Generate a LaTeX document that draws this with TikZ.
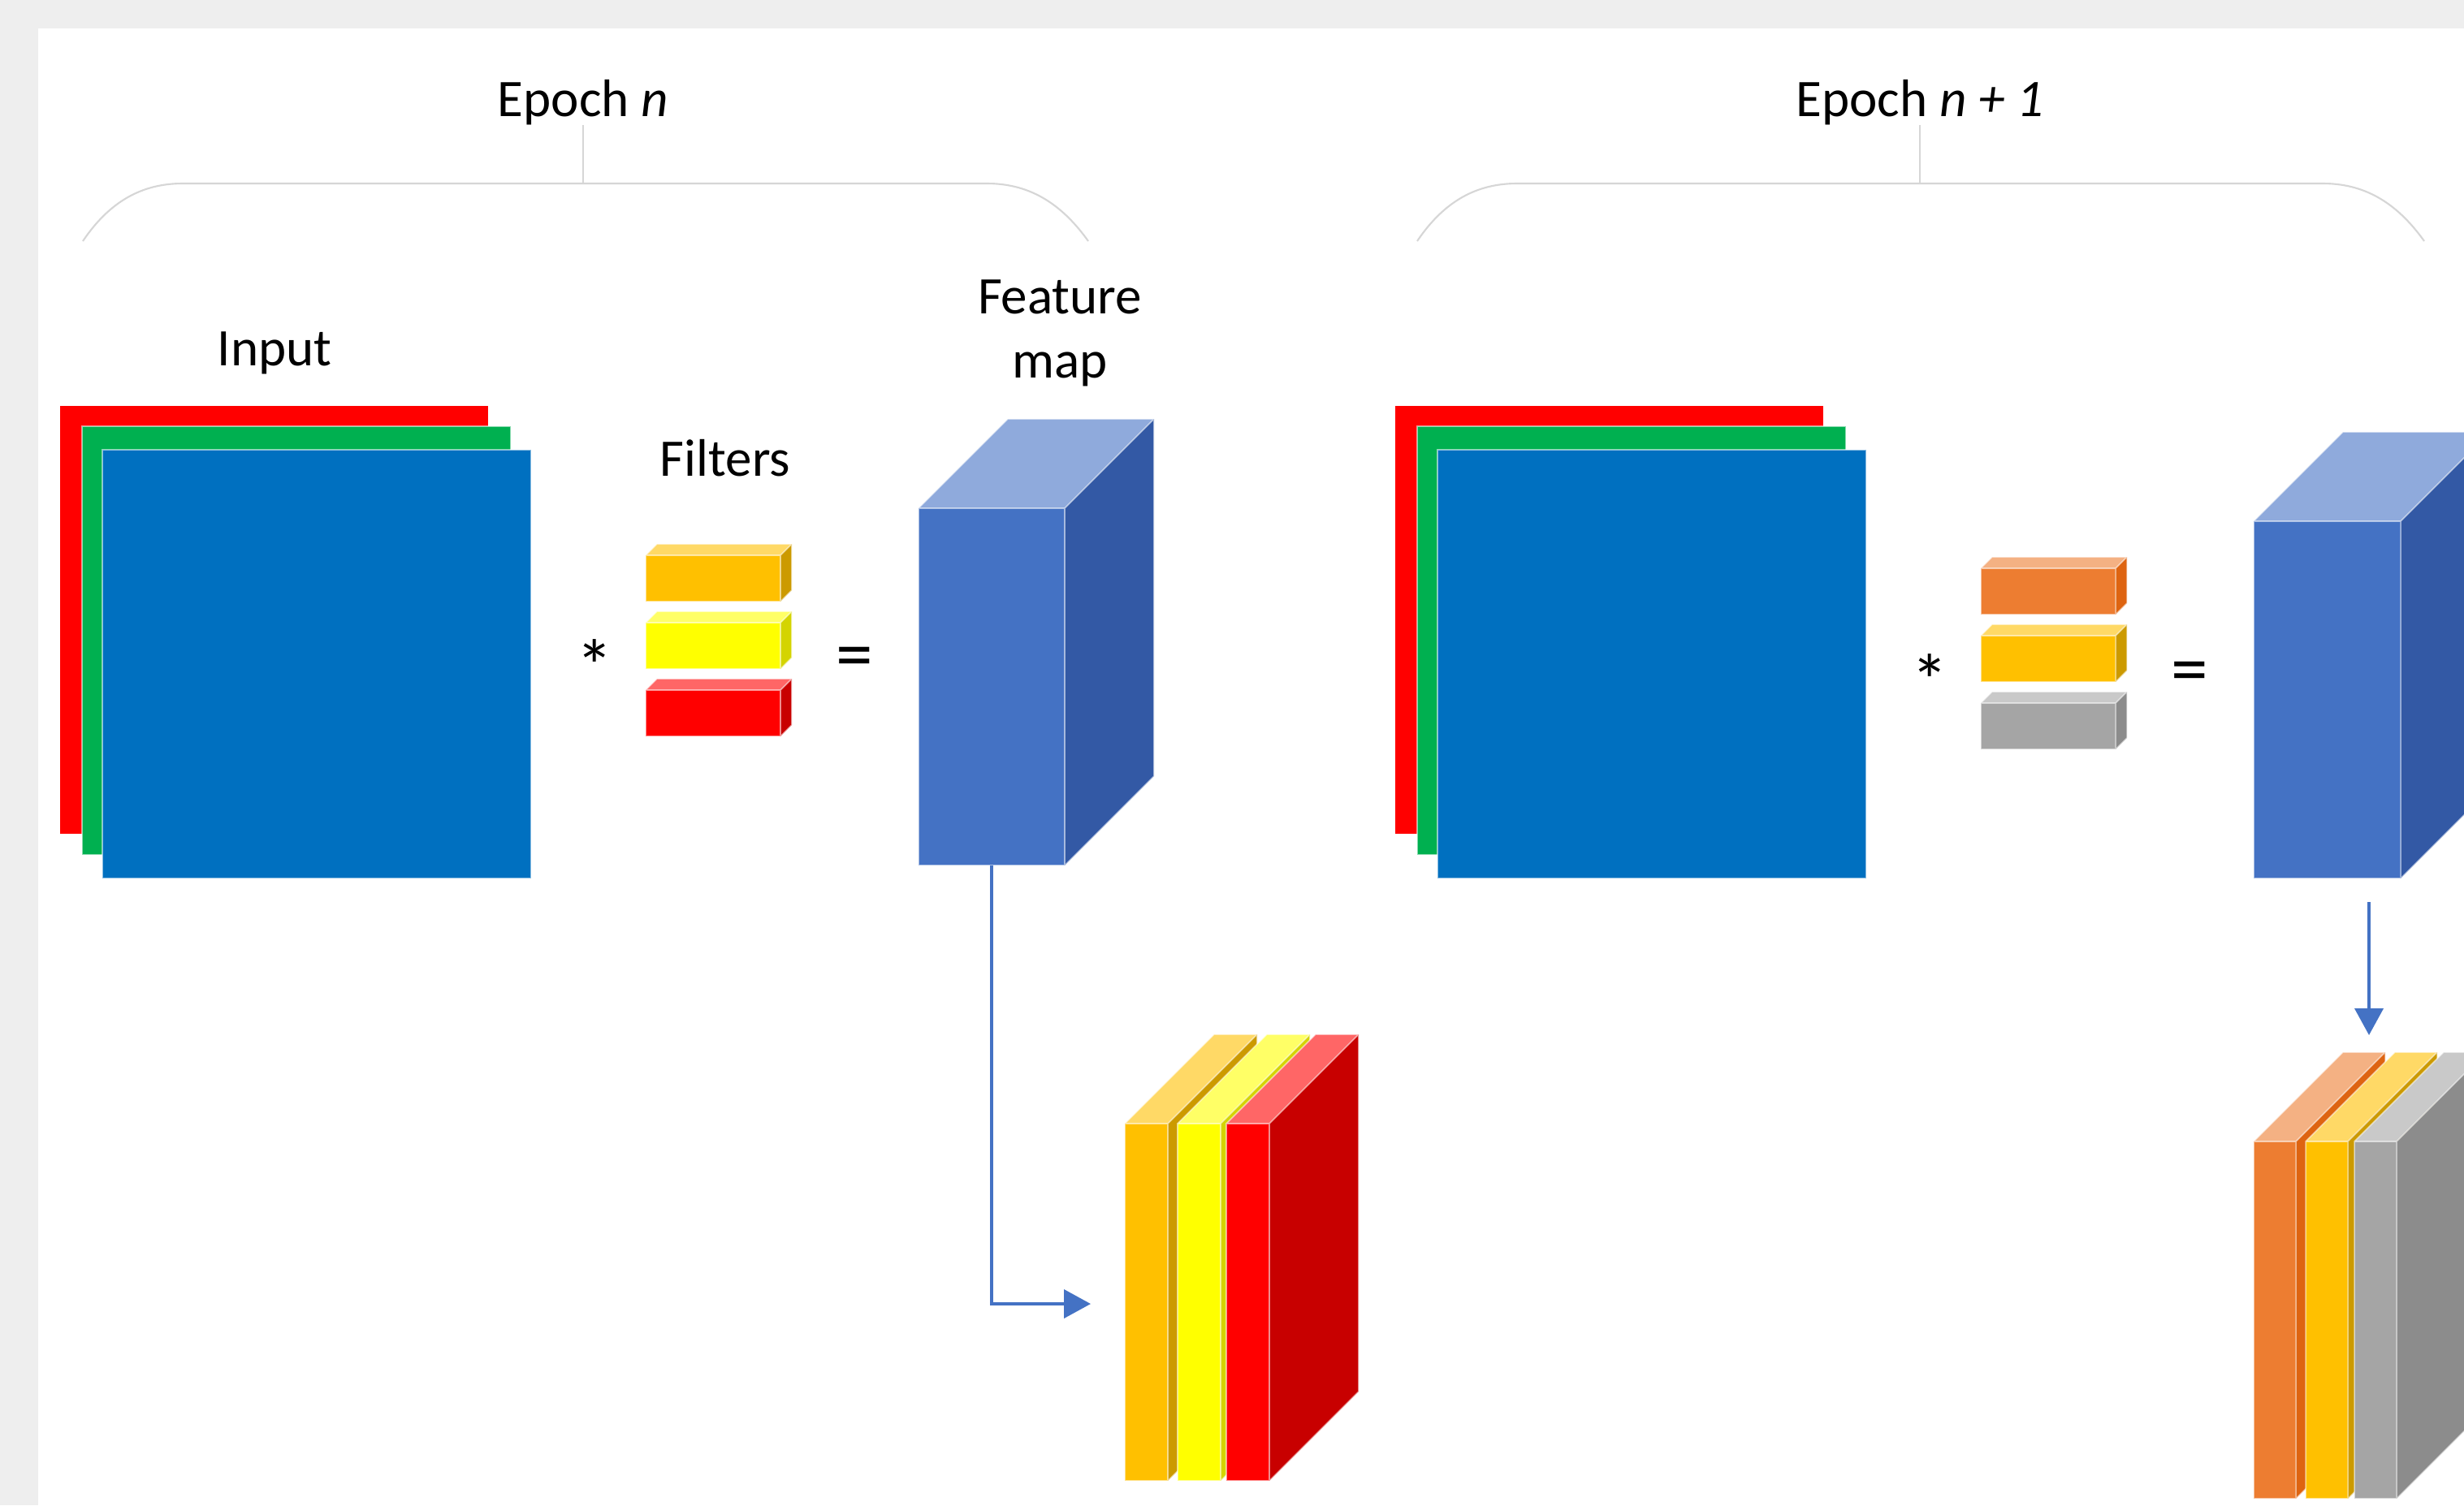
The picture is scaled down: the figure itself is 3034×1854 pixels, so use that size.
\documentclass[tikz,border=0pt]{standalone}
\usepackage{fontspec}
\setmainfont{Carlito}
\usetikzlibrary{arrows.meta}
\definecolor{bggray}{HTML}{EEEEEE}
\definecolor{bracecol}{HTML}{D6D6D6}
\definecolor{inred}{HTML}{FF0000}
\definecolor{ingreen}{HTML}{00B050}
\definecolor{inblue}{HTML}{0070C0}
\definecolor{fmfront}{HTML}{4472C4}
\definecolor{fmside}{HTML}{3359A5}
\definecolor{fmtop}{HTML}{8FAADC}
\definecolor{gfront}{HTML}{FFC000}\definecolor{gside}{HTML}{CC9A00}\definecolor{gtop}{HTML}{FFD966}
\definecolor{yfront}{HTML}{FFFF00}\definecolor{yside}{HTML}{D4D400}\definecolor{ytop}{HTML}{FFFF66}
\definecolor{rfront}{HTML}{FF0000}\definecolor{rside}{HTML}{C80000}\definecolor{rtop}{HTML}{FF6666}
\definecolor{ofront}{HTML}{ED7D31}\definecolor{oside}{HTML}{DE6411}\definecolor{otop}{HTML}{F4B183}
\definecolor{afront}{HTML}{A5A5A5}\definecolor{aside}{HTML}{8C8C8C}\definecolor{atop}{HTML}{C9C9C9}
\tikzset{
  edge/.style={draw=white, draw opacity=0.55, line width=0.45pt},
  lbl/.style={font=\fontsize{18.5}{22.2}\selectfont, inner sep=0pt},
  op/.style={font=\fontsize{26}{30}\selectfont, inner sep=0pt},
  bracel/.style={draw=bracecol, line width=0.6pt},
  arr/.style={draw=fmfront, line width=1.15pt, -{Triangle[length=0.33cm,width=0.35cm]}}
}
% name, x, y, w, h, d, front, side, top
\newcommand{\mybox}[9]{%
  \fill[#9] (#2,#3) -- ++(#6,-#6) -- ++(#4,0) -- ++(-#6,#6) -- cycle;
  \fill[#8] (#2+#4,#3) -- ++(#6,-#6) -- ++(0,#5) -- ++(-#6,#6) -- cycle;
  \fill[#7] (#2,#3) rectangle ++(#4,#5);
  \draw[edge] (#2,#3) -- ++(#6,-#6) -- ++(#4,0) -- ++(0,#5) -- ++(-#6,#6)
              (#2+#4,#3) -- ++(#6,-#6) (#2,#3) rectangle ++(#4,#5);
  \coordinate (#1) at (#2+#4/2,#3+#5);
}
\begin{document}
\begin{tikzpicture}[x=0.01cm,y=-0.01cm]
\useasboundingbox (0,0) rectangle (3034,1854);
\clip (0,0) rectangle (3034,1854);
\fill[bggray] (0,0) rectangle (3034,1854);
\fill[white] (47,35) rectangle (3034,1854);

% ---------- Epoch n ----------
\node[lbl, anchor=base] (ep1) at (718,143) {Epoch \textit{n}};
\coordinate (b1) at (720,226);
\draw[bracel] (ep1.south) -- (ep1.south |- b1);
\draw[bracel] (102,297) .. controls (135,248) and (175,226) .. (225,226) -- (1215,226)
  .. controls (1265,226) and (1305,248) .. (1340,297);

\node[lbl, anchor=base] (in1) at (338,450) {Input};
\fill[inred] (74,500) rectangle (601,1027);
\fill[ingreen] (101,525) rectangle (629,1053);
\draw[edge] (101,525) rectangle (629,1053);
\fill[inblue] (126,554) rectangle (654,1082);
\draw[edge] (126,554) rectangle (654,1082);

\node[op] (ast1) at (732,820) {*};
\node[lbl, anchor=base] (fi1) at (893,586) {Filters};
\mybox{f1a}{795}{684}{166}{57}{14}{gfront}{gside}{gtop}
\mybox{f1b}{795}{767}{166}{57}{14}{yfront}{yside}{ytop}
\mybox{f1c}{795}{850}{166}{57}{14}{rfront}{rside}{rtop}
\node[op] (eq1) at (1052,817) {=};

\node[lbl, anchor=base, align=center] (fml1) at (1305,465) {Feature\\map};
\mybox{fm1}{1131}{626}{180}{440}{110}{fmfront}{fmside}{fmtop}

\mybox{p1a}{1385}{1384}{53}{440}{110}{gfront}{gside}{gtop}
\mybox{p1b}{1450}{1384}{53}{440}{110}{yfront}{yside}{ytop}
\mybox{p1c}{1510}{1384}{53}{440}{110}{rfront}{rside}{rtop}
\coordinate (pl1in) at (1343,1606);
\draw[arr] (fm1) |- (pl1in);

% ---------- Epoch n + 1 ----------
\node[lbl, anchor=base] (ep2) at (2364,143) {Epoch \textit{n + 1}};
\coordinate (b2) at (2364,226);
\draw[bracel] (ep2.south) -- (ep2.south |- b2);
\draw[bracel] (1745,297) .. controls (1778,248) and (1818,226) .. (1868,226) -- (2860,226)
  .. controls (2910,226) and (2950,248) .. (2985,297);

\fill[inred] (1718,500) rectangle (2245,1027);
\fill[ingreen] (1745,525) rectangle (2273,1053);
\draw[edge] (1745,525) rectangle (2273,1053);
\fill[inblue] (1770,554) rectangle (2298,1082);
\draw[edge] (1770,554) rectangle (2298,1082);

\node[op] (ast2) at (2376,838) {*};
\mybox{f2a}{2439}{700}{166}{57}{14}{ofront}{oside}{otop}
\mybox{f2b}{2439}{783}{166}{57}{14}{gfront}{gside}{gtop}
\mybox{f2c}{2439}{866}{166}{57}{14}{afront}{aside}{atop}
\node[op] (eq2) at (2696,835) {=};

\mybox{fm2}{2775}{642}{181}{440}{110}{fmfront}{fmside}{fmtop}

\mybox{p2a}{2775}{1406}{52}{440}{110}{ofront}{oside}{otop}
\mybox{p2b}{2839}{1406}{52}{440}{110}{gfront}{gside}{gtop}
\mybox{p2c}{2899}{1406}{52}{440}{110}{afront}{aside}{atop}
\coordinate (fm2arr) at (2917,1111);
\coordinate (pl2in) at (2917,1275);
\draw[arr] (fm2arr) -- (pl2in);
\end{tikzpicture}
\end{document}
